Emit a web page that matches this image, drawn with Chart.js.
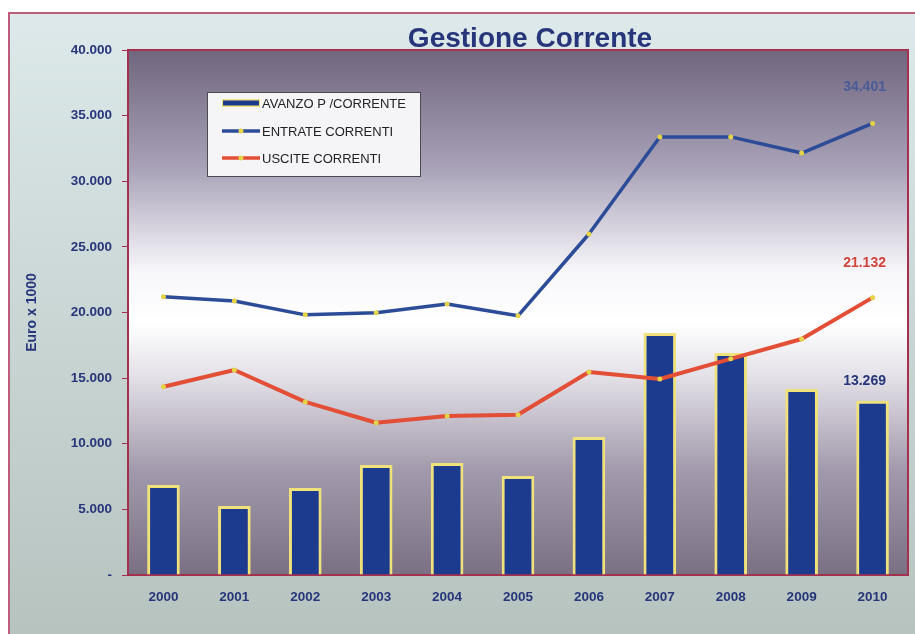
<!DOCTYPE html>
<html>
<head>
<meta charset="utf-8">
<script src="https://cdn.jsdelivr.net/npm/chart.js@4.4.1/dist/chart.umd.min.js"></script>
<style>
  html, body { margin: 0; padding: 0; background: #fff; }
  #wrap { width: 915px; height: 634px; position: relative; }
</style>
</head>
<body>
<div id="wrap"><canvas id="chart" width="915" height="634"></canvas></div>
<script>
// ── Data ─────────────────────────────────
const years   = ['2000','2001','2002','2003','2004','2005','2006','2007','2008','2009','2010'];
const avanzo  = [6860, 5260, 6630, 8380, 8530, 7540, 10510, 18440, 16910, 14170, 13269];
const entrate = [21200, 20880, 19820, 19980, 20650, 19750, 25980, 33370, 33380, 32150, 34401];
const uscite  = [14340, 15620, 13190, 11600, 12120, 12210, 15470, 14930, 16470, 17980, 21132];
const yTicks  = [0, 5000, 10000, 15000, 20000, 25000, 30000, 35000, 40000];

const NAVY = '#27367a';
const FONT = '"Liberation Sans", Arial, sans-serif';
const fmt = v => v === 0 ? '-' : String(v).replace(/\B(?=(\d{3})+(?!\d))/g, '.');

// ── Backgrounds, frame, title, legend, labels ──
const decor = {
  id: 'decor',
  beforeDraw(chart) {
    const { ctx, chartArea: a, width, height } = chart;
    ctx.save();
    ctx.fillStyle = '#ffffff';
    ctx.fillRect(0, 0, width, height);
    const g = ctx.createLinearGradient(0, 13, 0, height);
    g.addColorStop(0, '#dde9ea');
    g.addColorStop(1, '#b6c3bf');
    ctx.fillStyle = g;
    ctx.fillRect(9, 13, width - 9, height - 13);
    ctx.strokeStyle = '#bf5b7b';
    ctx.lineWidth = 2;
    ctx.beginPath();
    ctx.moveTo(9, height); ctx.lineTo(9, 13); ctx.lineTo(width, 13);
    ctx.stroke();

    const pg = ctx.createLinearGradient(0, a.top, 0, a.bottom);
    pg.addColorStop(0, '#70667f');
    pg.addColorStop(0.22, '#a7a0b6');
    pg.addColorStop(0.42, '#f7f6fa');
    pg.addColorStop(0.52, '#ffffff');
    pg.addColorStop(0.62, '#e4e1e8');
    pg.addColorStop(0.8, '#a29aac');
    pg.addColorStop(1, '#7b7083');
    ctx.fillStyle = pg;
    ctx.fillRect(a.left, a.top, a.right - a.left, a.bottom - a.top);

    ctx.fillStyle = NAVY;
    ctx.font = 'bold 28px ' + FONT;
    ctx.textAlign = 'center';
    ctx.textBaseline = 'middle';
    ctx.fillText('Gestione Corrente', 530, 39);
    ctx.restore();
  },
  beforeDatasetsDraw(chart) {
    const { ctx, chartArea: a } = chart;
    ctx.save();
    ctx.strokeStyle = '#a3304f';
    ctx.lineWidth = 2;
    ctx.strokeRect(a.left, a.top, a.right - a.left, a.bottom - a.top);
    ctx.restore();
  },
  afterDatasetsDraw(chart) {
    const { ctx, scales: { x, y } } = chart;
    ctx.save();
    ctx.font = 'bold 14px ' + FONT;
    ctx.textAlign = 'center';
    ctx.textBaseline = 'middle';
    const last = years.length - 1;
    const px = x.getPixelForValue(last) - 8;
    ctx.fillStyle = '#4b5b98';
    ctx.fillText(fmt(entrate[last]), px, y.getPixelForValue(entrate[last]) - 36);
    ctx.fillStyle = '#d2453c';
    ctx.fillText(fmt(uscite[last]), px, y.getPixelForValue(uscite[last]) - 35);
    ctx.fillStyle = NAVY;
    ctx.fillText(fmt(avanzo[last]), px, y.getPixelForValue(avanzo[last]) - 20);

    // legend box
    const bx = 207, by = 92, bw = 213, bh = 84;
    ctx.fillStyle = '#f5f5f8';
    ctx.fillRect(bx, by, bw, bh);
    ctx.strokeStyle = '#4a4a52';
    ctx.lineWidth = 1;
    ctx.strokeRect(bx + 0.5, by + 0.5, bw, bh);
    const rows = [103, 131, 158];
    chart.data.datasets.forEach((ds, i) => {
      const ry = rows[i];
      if (ds.type === 'bar') {
        ctx.fillStyle = ds.borderColor;
        ctx.fillRect(222, ry - 4, 38, 8);
        ctx.fillStyle = ds.backgroundColor;
        ctx.fillRect(223, ry - 2.5, 36, 5);
      } else {
        ctx.strokeStyle = ds.borderColor;
        ctx.lineWidth = 3.5;
        ctx.beginPath(); ctx.moveTo(222, ry); ctx.lineTo(260, ry); ctx.stroke();
        ctx.fillStyle = ds.pointBackgroundColor;
        ctx.beginPath(); ctx.arc(241, ry, 2.5, 0, Math.PI * 2); ctx.fill();
      }
      ctx.fillStyle = '#222';
      ctx.font = '13px ' + FONT;
      ctx.textAlign = 'left';
      ctx.fillText(ds.label, 262, ry + 1);
    });
    ctx.restore();
  }
};

const tickFont = { family: FONT, size: 13.5, weight: 'bold' };

new Chart(document.getElementById('chart').getContext('2d'), {
  data: {
    labels: years,
    datasets: [
      {
        type: 'bar', label: 'AVANZO P /CORRENTE', data: avanzo, order: 2,
        backgroundColor: '#1d3b8e', borderColor: '#efe27a', borderWidth: 3,
        barPercentage: 0.46, categoryPercentage: 1
      },
      {
        type: 'line', label: 'ENTRATE CORRENTI', data: entrate, order: 1,
        borderColor: '#2d4c98', borderWidth: 3.5, tension: 0,
        pointRadius: 2.5, pointBackgroundColor: '#e6d448', pointBorderWidth: 0,
        borderJoinStyle: 'round', borderCapStyle: 'round'
      },
      {
        type: 'line', label: 'USCITE CORRENTI', data: uscite, order: 1,
        borderColor: '#e24e36', borderWidth: 4, tension: 0,
        pointRadius: 2.5, pointBackgroundColor: '#e6d448', pointBorderWidth: 0,
        borderJoinStyle: 'round', borderCapStyle: 'round'
      }
    ]
  },
  options: {
    responsive: false,
    animation: false,
    layout: { padding: { top: 50, right: 7, left: 0, bottom: 0 } },
    plugins: { legend: { display: false }, tooltip: { enabled: false }, title: { display: false } },
    scales: {
      x: {
        grid: { display: false, drawTicks: true, tickLength: 6, tickColor: '#a3304f', offset: true },
        border: { display: false },
        ticks: { color: NAVY, font: tickFont, padding: 8 },
        afterFit: s => { s.height = 59; }
      },
      y: {
        min: 0, max: 40000,
        afterBuildTicks: s => { s.ticks = yTicks.map(v => ({ value: v })); },
        grid: { display: true, drawOnChartArea: false, tickLength: 6, tickColor: '#a3304f' },
        border: { display: false },
        ticks: { color: NAVY, font: tickFont, padding: 10, callback: v => fmt(v) },
        title: { display: true, text: 'Euro x 1000', color: NAVY, font: { ...tickFont, size: 14 }, padding: { top: 24, bottom: 0 } },
        afterFit: s => { s.width = 128; }
      }
    }
  },
  plugins: [decor]
});
</script>
</body>
</html>
